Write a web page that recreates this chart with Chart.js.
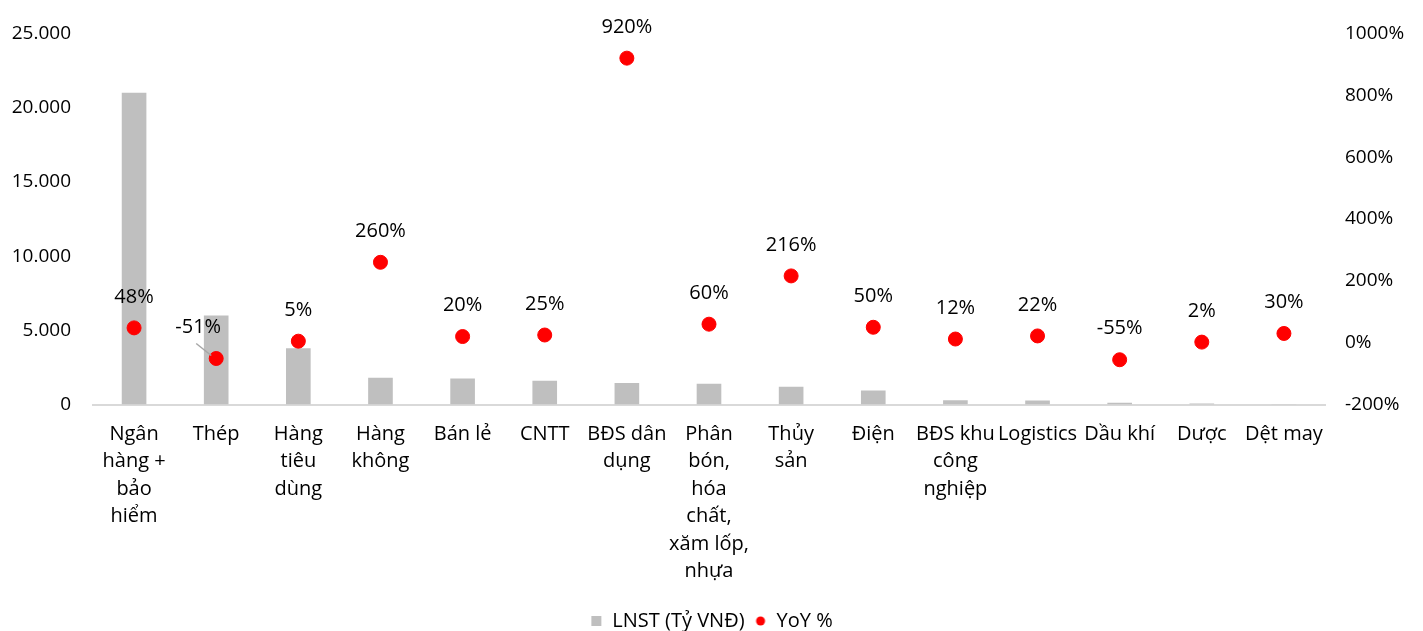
<!DOCTYPE html>
<html lang="vi">
<head>
  <meta charset="UTF-8">
  <title>LNST theo ngành</title>
  <script src="https://cdn.jsdelivr.net/npm/chart.js"></script>
  <style>
    html, body { margin: 0; padding: 0; background: #fff; }
    #wrap { width: 1423px; height: 631px; }
  </style>
</head>
<body>
  <div id="wrap"><canvas id="chart"></canvas></div>

  <script>
    // Ngành (nhãn đã ngắt dòng như ảnh gốc)
    const categories = [
      ['Ngân', 'hàng +', 'bảo', 'hiểm'],
      'Thép',
      ['Hàng', 'tiêu', 'dùng'],
      ['Hàng', 'không'],
      'Bán lẻ',
      'CNTT',
      ['BĐS dân', 'dụng'],
      ['Phân', 'bón,', 'hóa', 'chất,', 'xăm lốp,', 'nhựa'],
      ['Thủy', 'sản'],
      'Điện',
      ['BĐS khu', 'công', 'nghiệp'],
      'Logistics',
      'Dầu khí',
      'Dược',
      'Dệt may'
    ];
    // LNST (Tỷ VNĐ)
    const profit = [21000, 6000, 3800, 1800, 1750, 1600, 1450, 1400, 1200, 950, 300, 280, 130, 70, 30];
    // YoY %
    const yoy = [48, -51, 5, 260, 20, 25, 920, 60, 216, 50, 12, 22, -55, 2, 30];

    const FONT = 'Open Sans, Noto Sans, sans-serif';

    // ký hiệu nhỏ cho chú thích
    function legendIcon(kind, color) {
      const c = document.createElement('canvas');
      c.width = 12; c.height = 12;
      const g = c.getContext('2d');
      g.fillStyle = color;
      if (kind === 'rect') {
        g.fillRect(1, 1, 10, 10);
      } else {
        g.beginPath();
        g.arc(6, 6, 4.5, 0, Math.PI * 2);
        g.fill();
      }
      return c;
    }
    const icons = [legendIcon('rect', '#bfbfbf'), legendIcon('circle', '#ff0000')];

    // nhãn % trên mỗi điểm
    const yoyLabels = {
      id: 'yoyLabels',
      afterDatasetsDraw(chart) {
        const ctx = chart.ctx;
        const meta = chart.getDatasetMeta(1);
        ctx.save();
        ctx.font = '20px ' + FONT;
        ctx.fillStyle = '#000';
        ctx.textAlign = 'center';
        ctx.textBaseline = 'middle';
        meta.data.forEach((pt, i) => {
          let x = pt.x, y = pt.y - 31;
          if (i === 1) {
            // nhãn bị đẩy sang trái, có đường dẫn
            x = pt.x - 18;
            ctx.strokeStyle = '#a6a6a6';
            ctx.lineWidth = 1.5;
            ctx.beginPath();
            ctx.moveTo(x - 2, y + 16);
            ctx.lineTo(pt.x - 5, pt.y - 3);
            ctx.stroke();
          }
          ctx.fillText(yoy[i] + '%', x, y);
        });
        ctx.restore();
      }
    };

    new Chart(document.getElementById('chart'), {
      type: 'bar',
      data: {
        labels: categories,
        datasets: [{
          label: 'LNST (Tỷ VNĐ)',
          data: profit,
          backgroundColor: '#bfbfbf',
          yAxisID: 'y',
          barPercentage: 0.6,
          categoryPercentage: 0.5,
          order: 2
        }, {
          type: 'line',
          label: 'YoY %',
          data: yoy,
          yAxisID: 'y1',
          showLine: false,
          pointStyle: 'circle',
          pointRadius: 7,
          pointHoverRadius: 7,
          backgroundColor: '#ff0000',
          borderColor: '#ff0000',
          order: 1
        }]
      },
      options: {
        responsive: true,
        maintainAspectRatio: false,
        animation: false,
        layout: { autoPadding: false, padding: { top: 29, left: 0, right: 0, bottom: -10 } },
        plugins: {
          tooltip: { enabled: false },
          legend: {
            position: 'bottom',
            labels: {
              usePointStyle: true,
              boxWidth: 12,
              boxHeight: 12,
              padding: 10,
              color: '#000',
              font: { family: FONT, size: 20 },
              sort: (a, b) => a.datasetIndex - b.datasetIndex,
              generateLabels(chart) {
                const items = Chart.defaults.plugins.legend.labels.generateLabels(chart);
                items.forEach(it => { it.pointStyle = icons[it.datasetIndex]; });
                return items;
              }
            }
          }
        },
        scales: {
          x: {
            grid: { display: false, drawTicks: false },
            border: { color: '#d9d9d9', width: 2 },
            ticks: {
              color: '#000',
              padding: 16,
              autoSkip: false,
              maxRotation: 0,
              font: { family: FONT, size: 20, lineHeight: 1.37 }
            }
          },
          y: {
            position: 'left',
            min: 0,
            max: 25000,
            grid: { display: false, drawTicks: false },
            border: { display: false },
            afterFit(scale) { scale.width = 93; },
            ticks: {
              stepSize: 5000,
              color: '#000',
              padding: 22,
              font: { family: FONT, size: 19 },
              callback: v => v.toLocaleString('de-DE')
            }
          },
          y1: {
            position: 'right',
            min: -200,
            max: 1000,
            grid: { display: false, drawTicks: false },
            border: { display: false },
            afterFit(scale) { scale.width = 98; },
            ticks: {
              stepSize: 200,
              color: '#000',
              padding: 20,
              font: { family: FONT, size: 19 },
              callback: v => v + '%'
            }
          }
        }
      },
      plugins: [yoyLabels]
    });
  </script>
</body>
</html>
